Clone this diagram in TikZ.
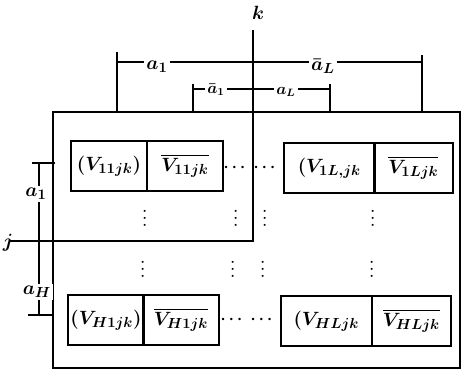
\documentclass[tikz,border=0pt]{standalone}
\usepackage{amsmath}
\usepackage{tikz}
\usetikzlibrary{positioning}

\begin{document}
\begin{tikzpicture}[x=0.75pt, y=-0.75pt,
  cell/.style={draw, line width=1.5pt, anchor=north west, minimum height=37.5pt,
               inner sep=0pt, font=\fontsize{15.5}{18}\selectfont\boldmath},
  dim/.style={line width=1.3pt},
  dimlbl/.style={fill=white, inner sep=1.5pt, font=\fontsize{15}{17}\selectfont\boldmath},
  dots/.style={inner sep=0pt, font=\fontsize{12}{14}\selectfont\boldmath},
  vdots/.style={dots, rotate=90, font=\fontsize{10}{12}\selectfont\boldmath}]
\useasboundingbox (0,0) rectangle (465,376);
% Outer block
\draw[line width=1.6pt] (53,112) rectangle (460,368);
% Sub-block j,k
\coordinate (kT) at (253,30);
\coordinate (jk) at (253,241);
\coordinate (jL) at (10,241);
\draw[line width=1.4pt] (kT) -- (jk) -- (jL);
\node[dimlbl, fill=none] (k) at (258,13) {$k$};
\node[dimlbl, fill=none] (j) at (8,243) {$j$};
% Top dimension lines
\draw[dim] (117,52) -- (117,112) (117,62) -- (422,62) (422,55) -- (422,112);
\node[dimlbl] (a1t) at (157,67) {$a_1$};
\node[dimlbl] (aLt) at (323,66) {$\bar{a}_L$};
\draw[dim] (193,84) -- (193,112) (193,89) -- (330,89) (330,84) -- (330,112);
\node[dimlbl, font=\fontsize{12}{14}\selectfont\boldmath] (a1i) at (216,90) {$\bar{a}_1$};
\node[dimlbl, font=\fontsize{12}{14}\selectfont\boldmath] (aLi) at (286,92) {$a_L$};
% Left dimension line
\draw[dim] (32,163) -- (55,163) (39,163) -- (39,315) (28,315) -- (53,315);
\node[dimlbl] (a1l) at (36,194) {$a_1$};
\node[dimlbl] (aHl) at (37,292) {$a_H$};
% Cells, first row
\node[cell, minimum width=57pt] (v11) at (70,140) {$(V_{11jk})$};
\node[cell, minimum width=57pt] (v11b) at (146,140) {$\overline{V_{11jk}}$};
\node[cell, minimum width=68pt] (v1L) at (283,142) {$(V_{1L,jk}$};
\node[cell, minimum width=59pt] (v1Lb) at (373,142) {$\overline{V_{1Ljk}}$};
% Cells, last row
\node[cell, minimum width=57pt] (vH1) at (67,294) {$(V_{H1jk})$};
\node[cell, minimum width=57pt] (vH1b) at (142,294) {$\overline{V_{H1jk}}$};
\node[cell, minimum width=68pt] (vHL) at (280,295) {$(V_{HLjk}$};
\node[cell, minimum width=59pt] (vHLb) at (371,295) {$\overline{V_{HLjk}}$};
% Horizontal dots
\node[dots] (h1) at (236,168) {$\cdots$};
\node[dots] (h2) at (266,168) {$\cdots$};
\node[dots] (h3) at (233,320) {$\cdots$};
\node[dots] (h4) at (263,320) {$\cdots$};
% Vertical dots
\foreach \x/\n in {145/1, 236/2, 265/3, 373/4} {
  \node[vdots] (u\n) at (\x,217) {$\cdots$};
}
\foreach \x/\n in {143/1, 233/2, 263/3, 372/4} {
  \node[vdots] (d\n) at (\x,268) {$\cdots$};
}
\end{tikzpicture}
\end{document}
